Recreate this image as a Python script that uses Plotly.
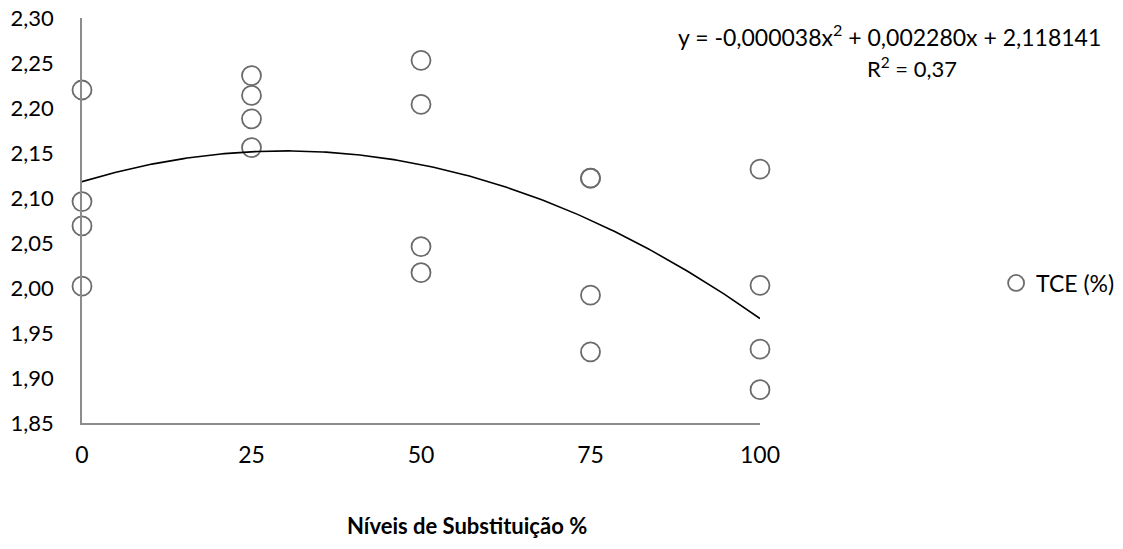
import plotly.graph_objects as go
import numpy as np

levels = [0, 0, 0, 0, 25, 25, 25, 25, 50, 50, 50, 50, 75, 75, 75, 75, 100, 100, 100, 100]
tce = [2.220, 2.096, 2.069, 2.002,
       2.236, 2.214, 2.188, 2.156,
       2.253, 2.204, 2.046, 2.017,
       2.122, 2.122, 1.992, 1.929,
       2.132, 2.003, 1.932, 1.887]
coef = [-0.000038, 0.002280, 2.118141]
r2 = 0.37
y_ticks = [1.85, 1.90, 1.95, 2.00, 2.05, 2.10, 2.15, 2.20, 2.25, 2.30]
x_ticks = [0, 25, 50, 75, 100]

FONT = "Lato"
xs = np.linspace(0, 100, 201)
ys = coef[0] * xs**2 + coef[1] * xs + coef[2]

fig = go.Figure()
fig.add_trace(go.Scatter(
    x=levels, y=tce, mode="markers", name="TCE (%)",
    marker=dict(symbol="circle-open", size=19, color="#6b6b6b", line=dict(width=1.8, color="#6b6b6b")),
    cliponaxis=False,
))
fig.add_trace(go.Scatter(
    x=xs, y=ys, mode="lines", showlegend=False,
    line=dict(color="black", width=1.6), hoverinfo="skip",
))

fig.update_layout(
    width=1123, height=549,
    margin=dict(l=82, r=363, t=18, b=126),
    paper_bgcolor="white", plot_bgcolor="white",
    separators=", ",
    font=dict(family=FONT, size=22, color="black"),
    showlegend=True,
    legend=dict(xref="container", yref="container", x=0.887, y=0.4845,
                xanchor="left", yanchor="middle",
                font=dict(size=23, family=FONT), itemwidth=30, bgcolor="rgba(0,0,0,0)"),
    xaxis=dict(range=[0, 100], tickvals=x_ticks, showgrid=False, zeroline=False,
               showline=True, linecolor="#8c8c8c", linewidth=1.5, ticks="",
               tickfont=dict(size=23, family=FONT), ticklabelstandoff=11, automargin=False,
               ticklabeloverflow="allow"),
    yaxis=dict(range=[1.85, 2.30], tickvals=y_ticks, tickformat=".2f", showgrid=False,
               zeroline=False, showline=True, linecolor="#8c8c8c", linewidth=1.5, ticks="",
               tickfont=dict(size=22, family=FONT), ticklabelstandoff=22, automargin=False,
               ticklabeloverflow="allow"),
    annotations=[
        dict(text="y = -0,000038x<sup>2</sup> + 0,002280x + 2,118141", xref="paper", yref="paper",
             x=1.506, y=0.958, xanchor="right", yanchor="middle", showarrow=False,
             font=dict(size=23, family=FONT)),
        dict(text="R<sup>2</sup> = 0,37", xref="paper", yref="paper",
             x=1.224, y=0.877, xanchor="center", yanchor="middle", showarrow=False,
             font=dict(size=22, family=FONT)),
        dict(text="<b>Níveis de Substituição %</b>", xref="paper", yref="paper",
             x=0.568, y=-0.252, xanchor="center", yanchor="middle", showarrow=False,
             font=dict(size=22, family=FONT)),
    ],
)

fig.write_html("out.html", config={"displayModeBar": False},
               post_script="document.body.style.margin='0';")
